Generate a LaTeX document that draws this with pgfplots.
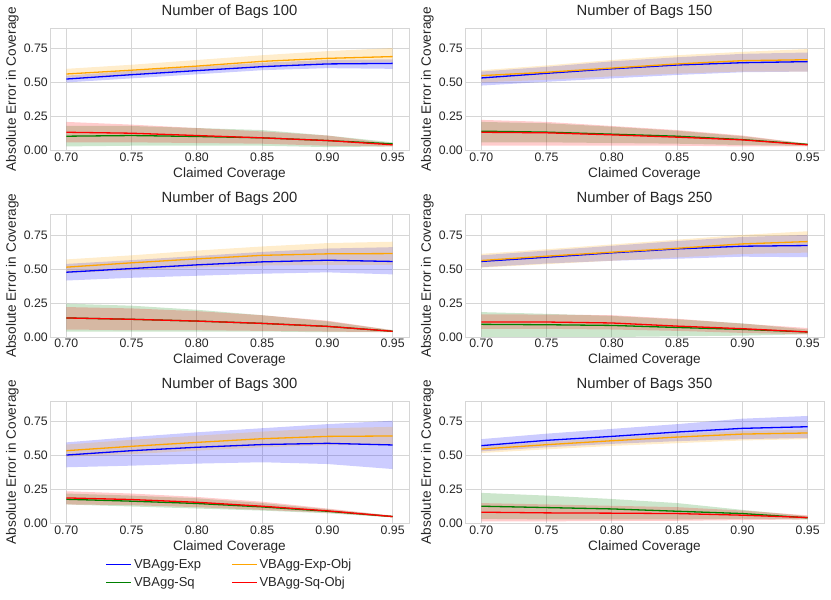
\documentclass[border=0pt]{standalone}
\usepackage{fontspec}
\setmainfont{Liberation Sans}
\usepackage{pgfplots}
\usepackage{pgfplotstable}
\pgfplotsset{compat=1.18}
\usepgfplotslibrary{groupplots,fillbetween}
\usetikzlibrary{calc}

\definecolor{cexp}{RGB}{0,0,255}
\definecolor{cexpobj}{RGB}{255,165,0}
\definecolor{csq}{RGB}{0,128,0}
\definecolor{csqobj}{RGB}{255,0,0}
\definecolor{gridgray}{RGB}{214,214,214}
\definecolor{txt}{RGB}{38,38,38}

% columns: e = VBAgg-Exp, o = VBAgg-Exp-Obj, s = VBAgg-Sq, r = VBAgg-Sq-Obj
\pgfplotstableread{
x    e     elo   ehi   o     olo   ohi   s     slo   shi   r     rlo   rhi
0.70 0.525 0.50  0.55  0.562 0.535 0.60  0.105 0.03  0.18  0.134 0.06  0.21
0.75 0.557 0.53  0.585 0.59  0.555 0.63  0.110 0.035 0.18  0.127 0.06  0.19
0.80 0.587 0.56  0.615 0.62  0.585 0.665 0.103 0.035 0.165 0.110 0.055 0.165
0.85 0.616 0.59  0.645 0.655 0.615 0.70  0.093 0.035 0.15  0.093 0.05  0.14
0.90 0.636 0.605 0.665 0.677 0.64  0.73  0.073 0.025 0.11  0.073 0.035 0.11
0.95 0.640 0.60  0.67  0.690 0.65  0.753 0.049 0.03  0.06  0.042 0.03  0.05
}\tabA
\pgfplotstableread{
x    e     elo   ehi   o     olo   ohi   s     slo   shi   r     rlo   rhi
0.70 0.533 0.477 0.58  0.55  0.50  0.59  0.142 0.06  0.21  0.134 0.035 0.225
0.75 0.567 0.505 0.615 0.575 0.52  0.625 0.135 0.06  0.20  0.130 0.035 0.21
0.80 0.600 0.53  0.655 0.606 0.545 0.665 0.120 0.055 0.175 0.115 0.035 0.18
0.85 0.628 0.555 0.685 0.636 0.565 0.70  0.105 0.05  0.145 0.098 0.035 0.15
0.90 0.645 0.575 0.71  0.660 0.58  0.725 0.080 0.04  0.105 0.078 0.03  0.11
0.95 0.653 0.58  0.72  0.667 0.58  0.745 0.045 0.035 0.05  0.042 0.03  0.05
}\tabB
\pgfplotstableread{
x    e     elo   ehi   o     olo   ohi   s     slo   shi   r     rlo   rhi
0.70 0.476 0.415 0.537 0.513 0.47  0.57  0.140 0.04  0.245 0.140 0.055 0.22
0.75 0.503 0.435 0.565 0.545 0.49  0.60  0.130 0.04  0.23  0.130 0.05  0.21
0.80 0.530 0.45  0.595 0.574 0.51  0.635 0.117 0.04  0.20  0.117 0.05  0.19
0.85 0.552 0.465 0.625 0.600 0.525 0.665 0.100 0.04  0.16  0.100 0.045 0.16
0.90 0.564 0.475 0.65  0.611 0.53  0.69  0.078 0.035 0.115 0.078 0.04  0.12
0.95 0.555 0.46  0.66  0.613 0.53  0.70  0.042 0.035 0.05  0.042 0.035 0.05
}\tabC
\pgfplotstableread{
x    e     elo   ehi   o     olo   ohi   s     slo   shi   r     rlo   rhi
0.70 0.555 0.513 0.60  0.562 0.51  0.611 0.093 0.0   0.183 0.110 0.06  0.166
0.75 0.586 0.54  0.635 0.594 0.535 0.645 0.090 0.0   0.17  0.110 0.06  0.165
0.80 0.618 0.56  0.67  0.623 0.56  0.68  0.085 0.0   0.155 0.103 0.055 0.16
0.85 0.647 0.575 0.705 0.652 0.585 0.715 0.070 0.005 0.13  0.080 0.045 0.134
0.90 0.667 0.59  0.735 0.684 0.61  0.75  0.056 0.01  0.10  0.061 0.03  0.098
0.95 0.672 0.586 0.75  0.701 0.62  0.777 0.037 0.02  0.055 0.037 0.02  0.066
}\tabD
\pgfplotstableread{
x    e     elo   ehi   o     olo   ohi   s     slo   shi   r     rlo   rhi
0.70 0.503 0.413 0.596 0.535 0.49  0.58  0.178 0.14  0.22  0.188 0.14  0.237
0.75 0.535 0.425 0.635 0.567 0.51  0.615 0.164 0.125 0.205 0.176 0.135 0.22
0.80 0.560 0.44  0.67  0.596 0.535 0.645 0.147 0.11  0.185 0.156 0.12  0.195
0.85 0.580 0.45  0.70  0.623 0.56  0.675 0.122 0.095 0.15  0.127 0.10  0.16
0.90 0.589 0.437 0.73  0.640 0.575 0.70  0.090 0.075 0.105 0.093 0.08  0.11
0.95 0.577 0.40  0.755 0.643 0.58  0.71  0.051 0.045 0.057 0.051 0.045 0.058
}\tabE
\pgfplotstableread{
x    e     elo   ehi   o     olo   ohi   s     slo   shi   r     rlo   rhi
0.70 0.572 0.53  0.62  0.547 0.518 0.567 0.127 0.034 0.225 0.083 0.015 0.15
0.75 0.611 0.56  0.66  0.579 0.545 0.60  0.117 0.03  0.205 0.078 0.015 0.14
0.80 0.640 0.585 0.695 0.608 0.57  0.63  0.107 0.03  0.18  0.076 0.02  0.13
0.85 0.672 0.605 0.73  0.635 0.59  0.66  0.090 0.03  0.15  0.073 0.02  0.12
0.90 0.699 0.62  0.77  0.657 0.61  0.68  0.073 0.035 0.10  0.061 0.025 0.095
0.95 0.711 0.628 0.79  0.665 0.62  0.69  0.042 0.03  0.054 0.044 0.03  0.06
}\tabF

% shaded band between <col>lo and <col>hi
\newcommand{\band}[3]{%
  \addplot[name path=#2hi, draw=none, forget plot] table[x=x, y=#2hi] {#1};
  \addplot[name path=#2lo, draw=none, forget plot] table[x=x, y=#2lo] {#1};
  \addplot[fill=#3, fill opacity=0.2, draw=none, forget plot] fill between[of=#2hi and #2lo];
}
\newcommand{\panel}[1]{%
  \band{#1}{e}{cexp}
  \band{#1}{s}{csq}
  \band{#1}{o}{cexpobj}
  \band{#1}{r}{csqobj}
  \addplot[cexp]    table[x=x, y=e] {#1};
  \addplot[cexpobj] table[x=x, y=o] {#1};
  \addplot[csq]     table[x=x, y=s] {#1};
  \addplot[csqobj]  table[x=x, y=r] {#1};
}

\begin{document}
\begin{tikzpicture}
\begin{groupplot}[
    group style={group size=2 by 3, group name=G,
        horizontal sep=56pt, vertical sep=64pt},
    scale only axis,
    width=359pt, height=122.5pt,
    xmin=0.6875, xmax=0.9625,
    ymin=0, ymax=0.9,
    xtick={0.70,0.75,0.80,0.85,0.90,0.95},
    ytick={0,0.25,0.5,0.75},
    /pgf/number format/fixed,
    /pgf/number format/fixed zerofill,
    /pgf/number format/precision=2,
    /pgf/number format/assume math mode=true,
    major tick length=0pt,
    tick label style={font=\fontsize{12.3}{14}\selectfont, text=txt, inner sep=2pt},
    grid=major,
    grid style={draw=gridgray, line width=0.8pt},
    axis line style={draw=gridgray, line width=0.9pt},
    xlabel={Claimed Coverage},
    ylabel={Absolute Error in Coverage},
    label style={font=\fontsize{13.6}{15}\selectfont, text=txt},
    xlabel style={at={(axis description cs:0.5,-0.19)}, anchor=center},
    ylabel style={at={(axis description cs:-0.105,0.5)}, anchor=center},
    title style={font=\fontsize{14.8}{17}\selectfont, text=txt,
        at={(axis description cs:0.5,1.05)}, anchor=base},
    every axis plot/.append style={line width=1.3pt},
    legend image code/.code={\draw[#1, line width=1.3pt] (0pt,0pt) -- (25pt,0pt);},
]
\nextgroupplot[title={Number of Bags 100}]
\panel{\tabA}
\nextgroupplot[title={Number of Bags 150}]
\panel{\tabB}
\nextgroupplot[title={Number of Bags 200}]
\panel{\tabC}
\nextgroupplot[title={Number of Bags 250}]
\panel{\tabD}
\nextgroupplot[title={Number of Bags 300},
    legend columns=2,
    legend cell align=left,
    legend style={draw=none, fill=none, at={(0.5,-0.255)}, anchor=north,
        font=\fontsize{13}{15}\selectfont, text=txt,
        /tikz/every even column/.append style={column sep=28pt},
        row sep=3.5pt}]
\panel{\tabE}
\legend{VBAgg-Exp, VBAgg-Exp-Obj, VBAgg-Sq, VBAgg-Sq-Obj}
\nextgroupplot[title={Number of Bags 350}]
\panel{\tabF}
\end{groupplot}
\pgfresetboundingbox
\path[use as bounding box] ($(G c1r1.north west)+(-50pt,28pt)$) rectangle ($(G c1r1.north west)+(781pt,-572pt)$);
\end{tikzpicture}
\end{document}
